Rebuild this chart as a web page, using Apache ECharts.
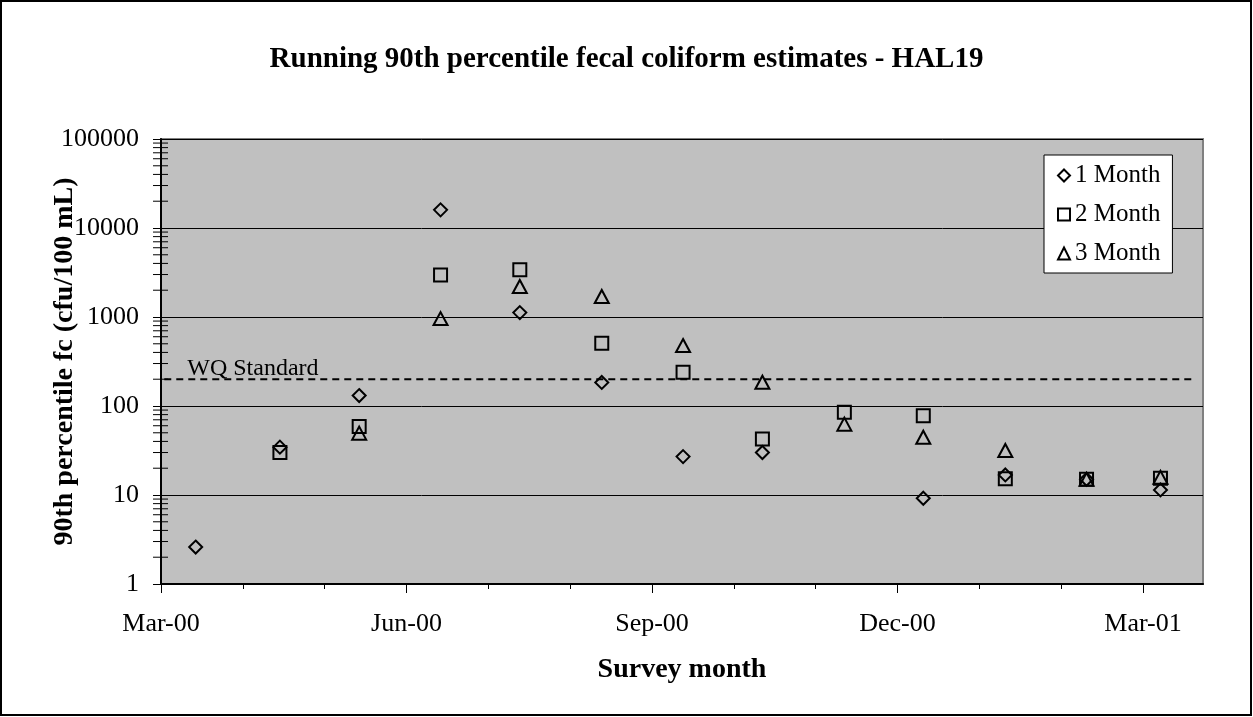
<!DOCTYPE html>
<html>
<head>
<meta charset="utf-8">
<script src="https://cdn.jsdelivr.net/npm/echarts@6/dist/echarts.min.js"></script>
<style>html,body{margin:0;padding:0;background:#fff;}#chart{width:1253px;height:717px;}</style>
</head>
<body>
<div id="chart"></div>
<script>
// Survey position in months after Mar-00 (month axis, equal month widths)
const surveyMonths = [0.424, 1.454, 2.423, 3.418, 4.387, 5.389, 6.383, 7.353, 8.355, 9.320, 10.323, 11.316, 12.220];
const oneMonth   = [2.6, 34.5, 131, 16000, 1120, 184, 27, 30, null, 9.2, 16.8, 15, 11.4];
const twoMonth   = [null, 30, 59, 2960, 3400, 508, 240, 42.7, 85, 77.5, 15.2, 15, 15.4];
const threeMonth = [null, null, 49.5, 960, 2200, 1700, 478, 185, 62.5, 44.6, 31.6, 15, 15.8];
const seriesNames = ['1 Month', '2 Month', '3 Month'];
const xTickLabels = ['Mar-00', 'Jun-00', 'Sep-00', 'Dec-00', 'Mar-01'];
const yTickLabels = ['1', '10', '100', '1000', '10000', '100000'];
const wqValue = 200;
const wqStart = 0.04;
const wqEnd = 12.61;
const axisMaxMonths = 12.74;

const FONT = "'Liberation Serif','Times New Roman',serif";
const pairs = (vals) => vals.map((v, i) => v == null ? null : [surveyMonths[i], v]).filter(Boolean);
const minorVals = [];
for (let k = 0; k < 5; k++) for (let m = 2; m <= 9; m++) minorVals.push([0, m * Math.pow(10, k)]);

const markerStyle = { color: 'rgba(0,0,0,0)', borderColor: '#000', borderWidth: 2, opacity: 1 };

const chart = echarts.init(document.getElementById('chart'), null, { renderer: 'canvas' });
chart.setOption({
  backgroundColor: '#fff',
  animation: false,
  title: {
    text: 'Running 90th percentile fecal coliform estimates - HAL19',
    left: 'center', top: 40,
    textStyle: { fontFamily: FONT, fontSize: 29, fontWeight: 'bold', color: '#000' }
  },
  legend: {
    data: seriesNames,
    orient: 'vertical', left: 1044, top: 155,
    backgroundColor: '#fff', borderColor: '#000', borderWidth: 1,
    padding: [8, 12, 7, 13], itemGap: 14, itemWidth: 12, itemHeight: 12,
    itemStyle: { opacity: 1, borderWidth: 2, borderColor: '#000', color: 'rgba(0,0,0,0)' },
    textStyle: { fontFamily: FONT, fontSize: 25, color: '#000' }
  },
  graphic: [{
    type: 'rect', shape: { x: 1, y: 1, width: 1250, height: 714 },
    style: { fill: 'none', stroke: '#000', lineWidth: 2 }, z: 100, silent: true
  }],
  grid: [
    { left: 161, top: 139, width: 1042, height: 445, show: true, backgroundColor: '#C0C0C0', borderColor: '#808080', borderWidth: 2 },
    { left: 161, top: 139, width: 982, height: 445, show: false }
  ],
  xAxis: [{
    gridIndex: 0, type: 'value', min: 0, max: axisMaxMonths,
    axisLine: { show: true, lineStyle: { color: '#000', width: 2 } },
    axisTick: { show: false }, axisLabel: { show: false }, splitLine: { show: false },
    name: 'Survey month', nameLocation: 'middle', nameGap: 72, nameMoveOverlap: false,
    nameTextStyle: { fontFamily: FONT, fontSize: 28, fontWeight: 'bold', color: '#000' }
  }, {
    gridIndex: 1, type: 'value', min: 0, max: 12, interval: 3,
    axisLine: { show: false },
    axisTick: { show: true, length: 9, lineStyle: { color: '#000', width: 1 } },
    minorTick: { show: true, splitNumber: 3, length: 5, lineStyle: { color: '#000', width: 1 } },
    splitLine: { show: false },
    axisLabel: { margin: 27, fontFamily: FONT, fontSize: 26, color: '#000',
      formatter: (v) => xTickLabels[Math.round(v / 3)] || '' }
  }],
  yAxis: [{
    gridIndex: 0, type: 'log', logBase: 10, min: 1, max: 100000,
    axisLine: { show: true, lineStyle: { color: '#000', width: 2 } },
    axisTick: { show: true, length: 8, lineStyle: { color: '#000', width: 1 } },
    splitLine: { show: true, lineStyle: { color: '#000', width: 1 } },
    axisLabel: { margin: 22, fontFamily: FONT, fontSize: 26, color: '#000',
      formatter: (v) => yTickLabels[Math.round(Math.log10(v))] },
    name: '90th percentile fc (cfu/100 mL)', nameLocation: 'middle', nameGap: 82, nameRotate: 90,
    nameMoveOverlap: false,
    nameTextStyle: { fontFamily: FONT, fontSize: 28, fontWeight: 'bold', color: '#000' }
  }, {
    gridIndex: 1, type: 'value', show: false
  }],
  series: [
    {
      name: 'minorTicks', type: 'custom', xAxisIndex: 0, yAxisIndex: 0, clip: false, silent: true, z: 5,
      data: minorVals,
      renderItem: (params, api) => {
        const p = api.coord([api.value(0), api.value(1)]);
        const x0 = params.coordSys.x;
        return { type: 'line', shape: { x1: x0 - 8, y1: p[1], x2: x0 + 7, y2: p[1] }, style: { stroke: '#000', lineWidth: 1 } };
      }
    },
    {
      name: 'WQ Standard', type: 'line', xAxisIndex: 0, yAxisIndex: 0, silent: true, showSymbol: false, z: 3,
      lineStyle: { color: '#000', width: 2, type: [7, 5] },
      data: [[wqStart, wqValue], [wqEnd, wqValue]]
    },
    {
      name: 'WQ label', type: 'scatter', xAxisIndex: 0, yAxisIndex: 0, silent: true, symbolSize: 1,
      itemStyle: { color: 'rgba(0,0,0,0)', opacity: 1 },
      label: { show: true, formatter: 'WQ Standard', position: 'top', align: 'left', offset: [23, 7],
        fontFamily: FONT, fontSize: 24, color: '#000' },
      data: [[wqStart, wqValue]]
    },
    { name: seriesNames[0], type: 'scatter', symbol: 'diamond', symbolSize: 13, itemStyle: markerStyle, data: pairs(oneMonth), z: 10 },
    { name: seriesNames[1], type: 'scatter', symbol: 'rect', symbolSize: 13, itemStyle: markerStyle, data: pairs(twoMonth), z: 10 },
    { name: seriesNames[2], type: 'scatter', symbol: 'triangle', symbolSize: [14, 13], itemStyle: markerStyle, data: pairs(threeMonth), z: 10 }
  ]
});
</script>
</body>
</html>
